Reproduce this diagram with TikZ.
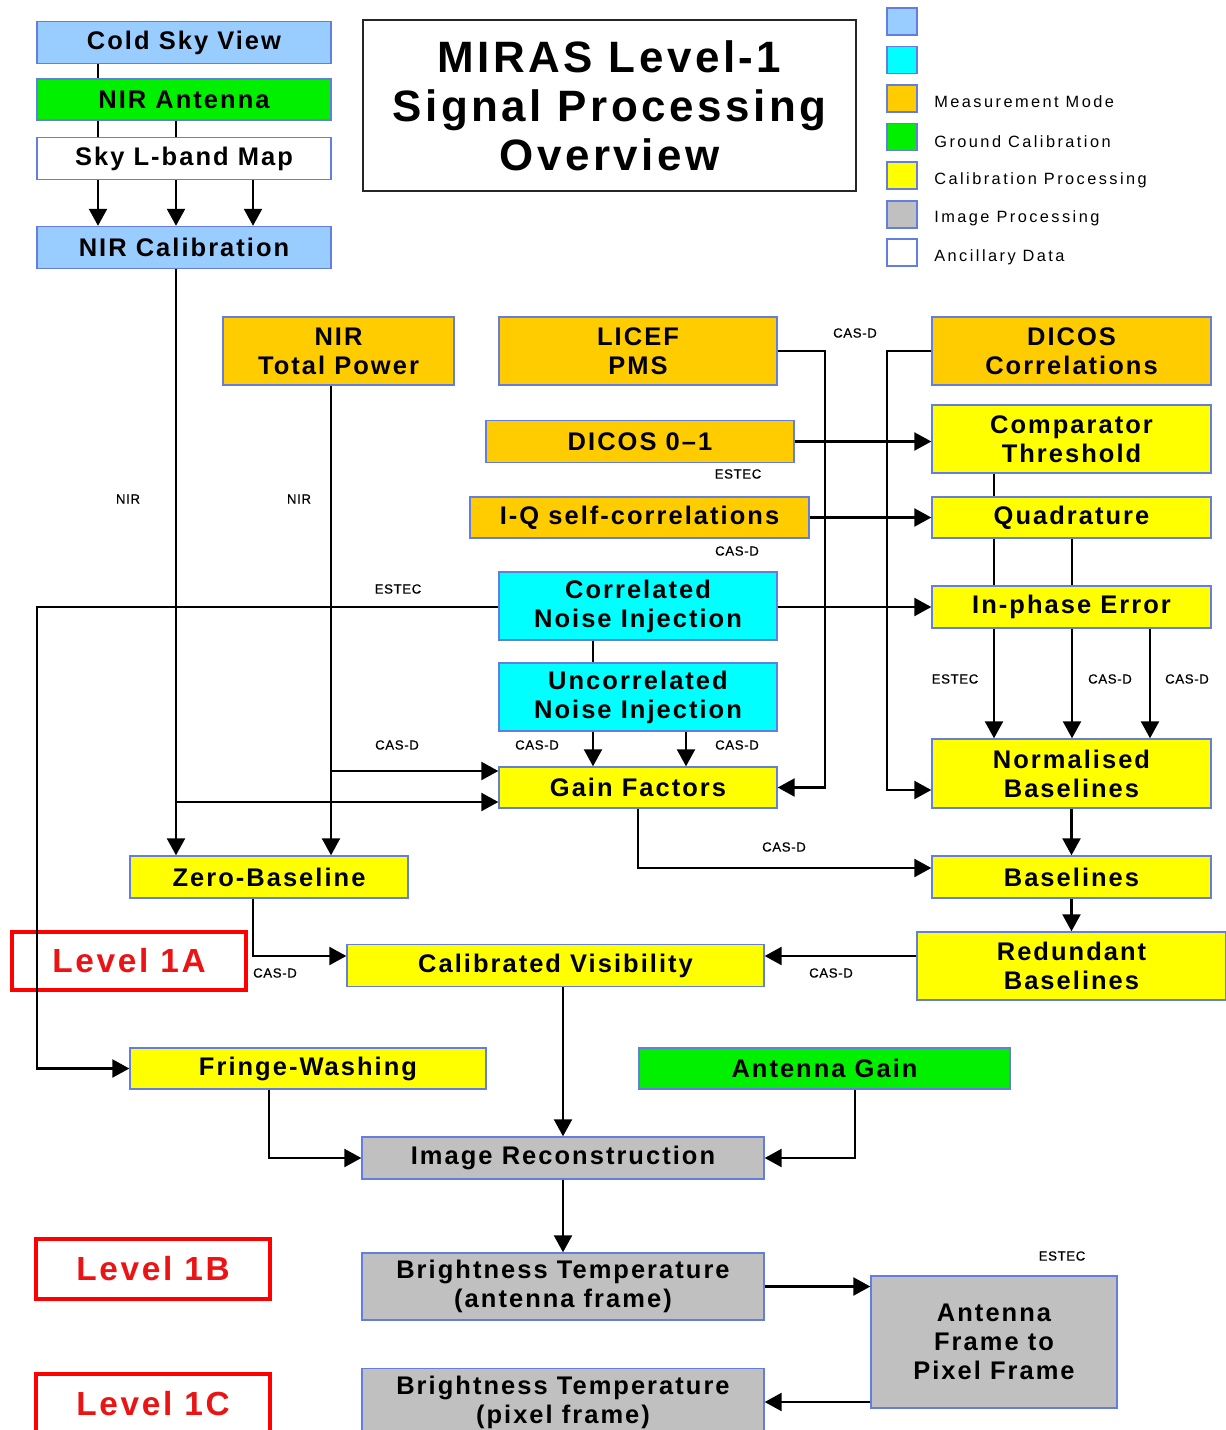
\documentclass[tikz,border=0pt]{standalone}
\usepackage{fontspec}
\setmainfont{Liberation Sans}
\newfontfamily\boxfont{Liberation Sans}[LetterSpace=8]
\newfontfamily\tagfont{Liberation Sans}[LetterSpace=5,FakeBold=0.6]
\newfontfamily\keyfont{Liberation Sans}[LetterSpace=15]
\usepackage{tikz}
\usetikzlibrary{arrows.meta,positioning,calc}
\definecolor{skyblue}{RGB}{153,204,255}
\definecolor{noisecyan}{RGB}{0,255,255}
\definecolor{measorange}{RGB}{255,204,0}
\definecolor{groundgreen}{RGB}{0,240,0}
\definecolor{calyellow}{RGB}{255,255,0}
\definecolor{imggray}{RGB}{192,192,192}
\definecolor{boxline}{RGB}{100,125,225}
\definecolor{levelred}{RGB}{235,20,20}
\tikzset{
  basebox/.style={rectangle,draw=boxline,line width=0.8pt,align=center,inner sep=0pt,font=\boxfont\bfseries\fontsize{14.5}{16.5}\selectfont},
  viewnode/.style={basebox,fill=skyblue},
  noisenode/.style={basebox,fill=noisecyan},
  measnode/.style={basebox,fill=measorange},
  groundnode/.style={basebox,fill=groundgreen},
  calnode/.style={basebox,fill=calyellow},
  imgnode/.style={basebox,fill=imggray},
  ancnode/.style={basebox,fill=white},
  levelnode/.style={rectangle,draw=red,line width=2.2pt,fill=white,text=levelred,inner sep=0pt,minimum width=4.68cm,font=\boxfont\bfseries\fontsize{19}{22}\selectfont},
  titlenode/.style={rectangle,draw=black!85,line width=0.9pt,align=center,inner sep=0pt,minimum width=9.86cm,minimum height=3.42cm,font=\boxfont\bfseries\fontsize{25}{28}\selectfont},
  keybox/.style={rectangle,draw=boxline,line width=0.8pt,minimum width=0.6cm,minimum height=0.54cm},
  keytext/.style={anchor=west,inner sep=0pt,font=\keyfont\fontsize{9.3}{11}\selectfont},
  tag/.style={inner sep=0pt,font=\tagfont\fontsize{7.5}{8}\selectfont},
  onerow/.style={minimum height=0.84cm},
  tworow/.style={minimum height=1.36cm},
  colL/.style={minimum width=5.88cm},
  colM/.style={minimum width=5.56cm},
  colR/.style={minimum width=5.58cm},
  arr/.style={-{Triangle[length=0.34cm,width=0.36cm]},line width=1.3pt},
  link/.style={line width=1.3pt}
}

\begin{document}
\begin{tikzpicture}[x=0.02cm,y=-0.02cm]
  \path[use as bounding box,fill=white] (0,0) rectangle (1226,1430);

  % near-field antenna chain
  \node[viewnode,colL,onerow] (cold) at (184,42.5) {Cold Sky View};
  \node[groundnode,colL,minimum height=0.82cm] (nirant) at (184,99.5) {NIR Antenna};
  \node[ancnode,colL,onerow] (skymap) at (184,158.5) {Sky L-band Map};
  \node[viewnode,colL,onerow] (nircal) at (184,247.5) {NIR Calibration};

  \node[titlenode] (title) at (609.5,105.5) {MIRAS Level-1\\Signal Processing\\Overview};

  % legend
  \foreach \y/\c in {21.5/skyblue,60/noisecyan,98.5/measorange,137/groundgreen,175.5/calyellow,214.5/imggray,252.5/white}
    \node[keybox,fill=\c] at (902,\y) {};
  \foreach \y/\t in {102/Measurement Mode,142/Ground Calibration,180/Calibration Processing,218/Image Processing,257/Ancillary Data}
    \node[keytext] at (934,\y) {\t};

  % instrument data
  \node[measnode,tworow,minimum width=4.62cm] (nirtp) at (338.5,351) {NIR\\Total Power};
  \node[measnode,colM,tworow] (licef) at (638,351) {LICEF\\PMS};
  \node[measnode,colR,tworow] (dicoscorr) at (1071.5,351) {DICOS\\Correlations};
  \node[measnode,onerow,minimum width=6.16cm] (dicos01) at (640,441.5) {DICOS 0–1};
  \node[measnode,minimum height=0.82cm,minimum width=6.78cm] (iq) at (639.5,517.5) {I-Q self-correlations};
  \node[noisenode,colM,tworow] (cni) at (638,606) {Correlated\\Noise Injection};
  \node[noisenode,colM,tworow] (uni) at (638,697) {Uncorrelated\\Noise Injection};

  % calibration processing
  \node[calnode,colR,tworow] (comp) at (1071.5,439) {Comparator\\Threshold};
  \node[calnode,colR,minimum height=0.82cm] (quad) at (1071.5,517.5) {Quadrature};
  \node[calnode,colR,onerow] (inph) at (1071.5,607) {In-phase Error};
  \node[calnode,colM,minimum height=0.82cm] (gain) at (638,787.5) {Gain Factors};
  \node[calnode,colR,minimum height=1.38cm] (normb) at (1071.5,773.5) {Normalised\\Baselines};
  \node[calnode,colM,onerow] (zerob) at (269,877) {Zero-Baseline};
  \node[calnode,colR,onerow] (basel) at (1071.5,877) {Baselines};
  \node[calnode,onerow,minimum width=8.34cm] (calvis) at (555.5,965.5) {Calibrated Visibility};
  \node[calnode,tworow,minimum width=6.18cm] (redb) at (1071.5,966) {Redundant\\Baselines};
  \node[calnode,minimum height=0.82cm,minimum width=7.12cm] (fringe) at (308,1068.5) {Fringe-Washing};
  \node[groundnode,minimum height=0.82cm,minimum width=7.42cm] (antgain) at (824.5,1068.5) {Antenna Gain};

  % image processing
  \node[imgnode,onerow,minimum width=8.04cm] (imrec) at (563,1158) {Image Reconstruction};
  \node[imgnode,minimum height=1.34cm,minimum width=8.04cm] (btant) at (563,1286.5) {Brightness Temperature\\(antenna frame)};
  \node[imgnode,minimum height=2.64cm,minimum width=4.92cm] (afpf) at (994,1342) {Antenna\\Frame to\\Pixel Frame};
  \node[imgnode,minimum height=1.34cm,minimum width=8.04cm] (btpix) at (563,1402) {Brightness Temperature\\(pixel frame)};

  \node[levelnode,minimum height=1.16cm] (lev1a) at (129,961) {Level 1A};
  \node[levelnode,minimum height=1.2cm] (lev1b) at (153,1269) {Level 1B};
  \node[levelnode,minimum height=1.2cm] (lev1c) at (153,1404) {Level 1C};

  % routing columns and rows
  \coordinate (cx1) at (98,0); \coordinate (cx2) at (176,0); \coordinate (cx3) at (253,0);
  \coordinate (tpx) at (331,0); \coordinate (busL) at (37,0);
  \coordinate (ux1) at (593,0); \coordinate (ux2) at (686,0);
  \coordinate (licefx) at (825,0); \coordinate (dicosx) at (887,0);
  \coordinate (rx1) at (994,0); \coordinate (rx2) at (1072,0); \coordinate (rx3) at (1150,0);
  \coordinate (fwx) at (269,0); \coordinate (agx) at (855,0);
  \coordinate (gy1) at (0,771); \coordinate (gy2) at (0,802); \coordinate (nby) at (0,790);
  \coordinate (bly) at (0,868); \coordinate (cvy) at (0,956);

  \draw[link] (cold.south -| cx1) -- (nirant.north -| cx1);
  \foreach \c in {cx1,cx2} \draw[link] (nirant.south -| \c) -- (skymap.north -| \c);
  \foreach \c in {cx1,cx2,cx3} \draw[arr] (skymap.south -| \c) -- (nircal.north -| \c);
  \draw[arr] (nircal.south -| cx2) -- (zerob.north -| cx2);
  \draw[arr] (nirtp.south -| tpx) -- (zerob.north -| tpx);
  \draw[arr] (cx2 |- gy2) -- (gain.west |- gy2);
  \draw[arr] (tpx |- gy1) -- (gain.west |- gy1);
  \draw[arr] (cni.west |- inph.west) -- (busL |- inph.west) |- (fringe.west);
  \draw[arr] (cni.east |- inph.west) -- (inph.west);
  \draw[link] (cni.south -| ux1) -- (uni.north -| ux1);
  \foreach \c in {ux1,ux2} \draw[arr] (uni.south -| \c) -- (gain.north -| \c);
  \draw[arr] (licef.east) -| (licefx |- gain.east) -- (gain.east);
  \draw[arr] (dicoscorr.west) -| (dicosx |- nby) -- (normb.west |- nby);
  \draw[arr] (dicos01.east) -- (comp.west |- dicos01.east);
  \draw[arr] (iq.east) -- (quad.west);
  \draw[link] (comp.south -| rx1) -- (quad.north -| rx1);
  \foreach \c in {rx1,rx2} \draw[link] (quad.south -| \c) -- (inph.north -| \c);
  \foreach \c in {rx1,rx2,rx3} \draw[arr] (inph.south -| \c) -- (normb.north -| \c);
  \draw[arr] (normb.south) -- (basel.north);
  \draw[arr] (basel.south) -- (redb.north -| basel.south);
  \draw[arr] (gain.south) |- (basel.west |- bly);
  \draw[arr] (zerob.south -| cx3) |- (calvis.west |- cvy);
  \draw[arr] (redb.west |- cvy) -- (calvis.east |- cvy);
  \draw[arr] (calvis.south -| imrec.north) -- (imrec.north);
  \draw[arr] (fringe.south -| fwx) |- (imrec.west);
  \draw[arr] (antgain.south -| agx) |- (imrec.east);
  \draw[arr] (imrec.south) -- (btant.north);
  \draw[arr] (btant.east) -- (afpf.west |- btant.east);
  \draw[arr] (afpf.west |- btpix.east) -- (btpix.east);

  % source labels
  \foreach \x/\y/\t in {128/499/NIR,299/499/NIR,855/333/CAS-D,738/474/ESTEC,737/551/CAS-D,398/589/ESTEC,
    397/745/CAS-D,537/745/CAS-D,737/745/CAS-D,955/679/ESTEC,1110/679/CAS-D,1187/679/CAS-D,
    784/847/CAS-D,275/973/CAS-D,831/973/CAS-D,1062/1256/ESTEC}
    \node[tag] at (\x,\y) {\t};
\end{tikzpicture}
\end{document}
